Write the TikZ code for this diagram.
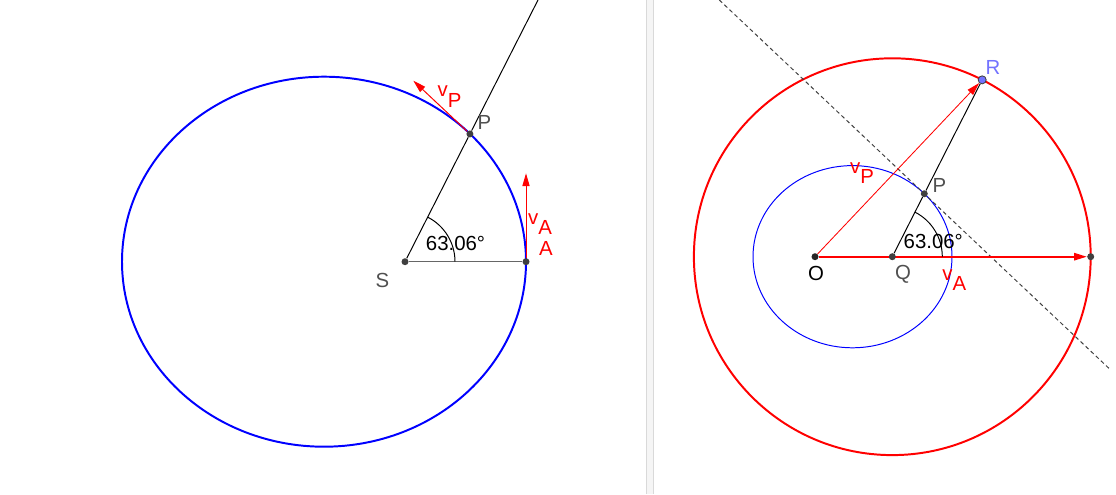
\documentclass[tikz,border=0pt]{standalone}
\usepackage{fontspec}
\setmainfont{Liberation Sans}
\usetikzlibrary{arrows.meta, calc, backgrounds}
\definecolor{ptgrey}{RGB}{64,64,64}
\definecolor{lblgrey}{RGB}{80,80,80}
\definecolor{rpoint}{RGB}{115,115,255}
\tikzset{>={Triangle[length=3.2mm, width=1.8mm]}}
\tikzset{
  pt/.style={circle, fill=ptgrey, inner sep=0pt, minimum size=1.75mm},
  lbl/.style={inner sep=0pt, font=\fontsize{14.5}{16}\selectfont},
  vel/.style={red, line width=0.7pt, ->},
  thinline/.style={line width=0.7pt}
}
\newcommand{\vsub}[1]{v\raisebox{-0.5em}{#1}}

\begin{document}
\begin{tikzpicture}[x=0.025cm, y=0.025cm]
            \useasboundingbox (0,0) rectangle (1116,-494);
            % divider
            \fill[black!4] (646.5,0) rectangle (653.5,-494);
            \draw[black!15, line width=0.5pt] (646.5,0) -- (646.5,-494) (653.5,0) -- (653.5,-494);

            % left: orbit
            \node[pt] (S) at (405,-261.7) {};
            \node[pt] (A) at (526,-261.7) {};
            \node[pt] (P) at ($(S)+(63.06:143.3)$) {};
            \coordinate (Ptop) at ($(S)+(63.06:293.6)$);
            \coordinate (vA) at (526,-173.3);
            \coordinate (vP) at (413.3,-80.7);
            \begin{scope}[on background layer]
                \draw[blue, line width=1.4pt] (324,-261.7) ellipse [x radius=202, y radius=185];
                \draw[line width=1.1pt] (S) -- ++(50,0);
            \end{scope}
            \draw[thinline] (S)--(P);
            \draw[thinline] (P)--(Ptop);
            \draw[thinline, black!60] (S)--(A);
            \draw[thinline] (S) ++(50,0) arc [start angle=0, end angle=63.06, radius=50];
            \draw[vel] (A)--(vA);
            \draw[vel] (P)--(vP);

            \node[lbl, lblgrey] (Sl) at (382.5,-280.3) {S};
            \node[lbl, lblgrey] (Pl) at (484.5,-122) {P};
            \node[lbl, red] (Al) at (546,-248.3) {A};
            \node[lbl, red] (vAl) at (540,-223.9) {\vsub{A}};
            \node[lbl, red] (vPl) at (449.5,-96.7) {\vsub{P}};
            \node[lbl] (angL) at (455.5,-243.5) {63.06°};

            % right: hodograph
            \node[pt, fill=black!85] (O) at (815,-256.7) {};
            \node[pt] (Q) at (892.3,-256.7) {};
            \node[pt] (E) at (1090.7,-256.7) {};
            \node[pt] (P2) at ($(Q)+(63.06:70.6)$) {};
            \node[pt, fill=rpoint, draw=ptgrey, line width=0.6pt, minimum size=2mm] (R) at ($(Q)+(63.06:198.4)$) {};
            \coordinate (T1) at (719.3,0);
            \coordinate (T2) at (1111,-370.3);
            \begin{scope}[on background layer]
                \draw[red, line width=1.4pt] (Q) circle [radius=198.4];
                \draw[blue, line width=0.7pt] (852.5,-256.7) ellipse [x radius=99.5, y radius=91.1];
                \draw[thinline, black!75, dash pattern=on 0.1cm off 0.075cm] (T1)--(T2);
                \draw[red, line width=1.4pt, ->] (O)--(E);
            \end{scope}
            \draw[thinline] (Q)--(P2);
            \draw[thinline] (P2)--(R);
            \draw[red, line width=0.6pt, ->] (O)--(R);
            \draw[thinline] (Q) ++(50,0) arc [start angle=0, end angle=63.06, radius=50];

            \node[lbl, red] (vPr) at (862,-173.3) {\vsub{P}};
            \node[lbl, lblgrey] (P2l) at (939.5,-185.7) {P};
            \node[lbl] (angR) at (933.3,-241.7) {63.06°};
            \node[lbl] (Ol) at (816,-273.8) {O};
            \node[lbl, lblgrey] (Ql) at (903,-274) {Q};
            \node[lbl, red] (vAr) at (954.2,-280) {\vsub{A}};
            \node[lbl, rpoint] (Rl) at (993,-67.5) {R};
\end{tikzpicture}
\end{document}
